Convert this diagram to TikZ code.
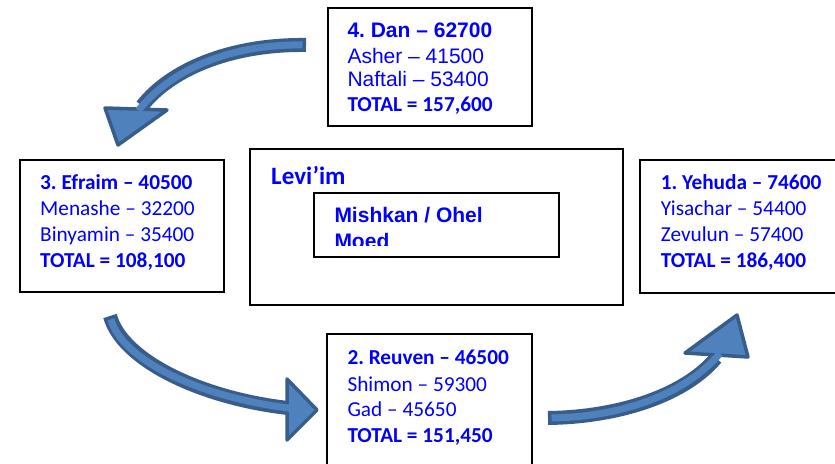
\documentclass[tikz,border=0pt]{standalone}
\usepackage{fontspec}
\setmainfont{Liberation Sans}
\newfontfamily\calfont{Carlito}
\definecolor{txtblue}{RGB}{0,0,255}
\definecolor{arrfill}{RGB}{79,129,189}
\definecolor{arrline}{RGB}{56,93,138}
\frenchspacing
\begin{document}
\begin{tikzpicture}[x=1pt,y=-1pt,
  box/.style={draw=black,line width=2pt,inner sep=0pt,anchor=north west},
  ar/.style={text=txtblue,anchor=base west,inner sep=0pt,font=\fontsize{21}{25}\selectfont},
  arb/.style={ar,font=\fontsize{21}{25}\selectfont\bfseries},
  ca/.style={ar,font=\fontsize{21.3}{25}\selectfont\calfont},
  cab/.style={ar,font=\fontsize{21.3}{25}\selectfont\calfont\bfseries},
  shaftout/.style={draw=arrline,line width=14pt},
  shaftin/.style={draw=arrfill,line width=7pt,shorten <=3.5pt,shorten >=-6pt},
  headstyle/.style={fill=arrfill,draw=arrline,line width=3.5pt,line join=round}
  ]
\clip (0,0) rectangle (835,463);
\useasboundingbox (0,0) rectangle (835,463);

% boxes
\node[box,minimum width=204,minimum height=118] (danbox) at (327,7) {};
\node[box,minimum width=204,minimum height=132] (efrbox) at (19,159) {};
\node[box,minimum width=196,minimum height=133] (yehbox) at (639,159) {};
\node[box,minimum width=205,minimum height=150] (reubox) at (326,333) {};
\node[box,minimum width=373,minimum height=156] (levbox) at (249,148) {};
\node[box,minimum width=245,minimum height=64] (mishbox) at (313,192) {};

% Dan
\node[arb] (dan1) at (347.3,37.3) {4. Dan – 62700};
\node[ar]  (dan2) at (347.3,63.3) {Asher – 41500};
\node[ar]  (dan3) at (347.3,86) {Naftali – 53400};
\node[cab] (dan4) at (347.3,111) {TOTAL = 157,600};

% Efraim
\node[cab] (efr1) at (40,189.3) {3. Efraim – 40500};
\node[ca]  (efr2) at (40,215.3) {Menashe – 32200};
\node[ca]  (efr3) at (40,241.5) {Binyamin – 35400};
\node[cab] (efr4) at (40,267.3) {TOTAL = 108,100};

% Yehuda
\node[cab] (yeh1) at (660.7,189.3) {1. Yehuda – 74600};
\node[ca]  (yeh2) at (660.7,215.5) {Yisachar – 54400};
\node[ca]  (yeh3) at (660.7,241.5) {Zevulun – 57400};
\node[cab] (yeh4) at (660.7,267.3) {TOTAL = 186,400};

% Reuven
\node[cab] (reu1) at (347.3,364.3) {2. Reuven – 46500};
\node[ca]  (reu2) at (347.3,391) {Shimon – 59300};
\node[ca]  (reu3) at (347.3,416.7) {Gad – 45650};
\node[cab] (reu4) at (347.3,442.7) {TOTAL = 151,450};

% Levi'im
\node[ar,font=\fontsize{25}{30}\selectfont\calfont\bfseries] (levi) at (271,184.5) {Levi’im};
\node[arb] (mish1) at (334.3,222) {Mishkan / Ohel};
\begin{scope}
\clip (300,228) rectangle (560,245.5);
\node[arb] (mish2) at (334.3,248.5) {Moed};
\end{scope}

% arrow 1 (Dan -> Efraim)
\coordinate (a1s) at (306,45);
\coordinate (a1e) at (142,106);
\draw[shaftout] (a1s) .. controls (230,44) and (170,70) .. (a1e);
\draw[headstyle] (105,108) -- (118,145) -- (167,110) -- cycle;
\draw[shaftin] (a1s) .. controls (230,44) and (170,70) .. (a1e);

% arrow 2 (Efraim -> Reuven)
\coordinate (a2s) at (110,316);
\coordinate (a2e) at (288,408);
\draw[shaftout] (a2s) .. controls (122,360) and (200,398) .. (a2e);
\draw[headstyle] (287,379) -- (317,410) -- (287,440) -- cycle;
\draw[shaftin] (a2s) .. controls (122,360) and (200,398) .. (a2e);

% arrow 3 (Reuven -> Yehuda)
\coordinate (a3s) at (548,418);
\coordinate (a3e) at (716,358);
\draw[shaftout] (a3s) .. controls (620,417) and (685,395) .. (a3e);
\draw[headstyle] (685,353) -- (737,315) -- (748,357) -- cycle;
\draw[shaftin] (a3s) .. controls (620,417) and (685,395) .. (a3e);
\end{tikzpicture}
\end{document}
